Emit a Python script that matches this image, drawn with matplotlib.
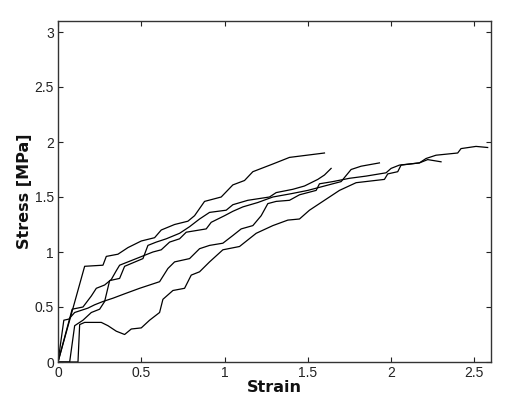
import matplotlib
matplotlib.use("Agg")
import matplotlib.pyplot as plt

# Curve 1 (top, ends near strain 1.6)
strain_1 = [0, 0.16, 0.27, 0.29, 0.36, 0.42, 0.50, 0.58, 0.62, 0.70, 0.78, 0.82, 0.88, 0.98,
            1.05, 1.12, 1.17, 1.29, 1.39, 1.60]
stress_1 = [0, 0.87, 0.88, 0.96, 0.98, 1.04, 1.10, 1.13, 1.20, 1.25, 1.28, 1.33, 1.46, 1.50,
            1.61, 1.65, 1.73, 1.80, 1.86, 1.90]

# Curve 2 (delayed start, ends near strain 1.63)
strain_2 = [0, 0.07, 0.10, 0.15, 0.20, 0.25, 0.28, 0.31, 0.37, 0.40, 0.51, 0.54, 0.59, 0.65,
            0.73, 0.79, 0.85, 0.91, 1.01, 1.05, 1.14, 1.27, 1.31, 1.41, 1.48, 1.56, 1.60, 1.64]
stress_2 = [0, 0, 0.33, 0.38, 0.45, 0.48, 0.55, 0.74, 0.76, 0.87, 0.94, 1.06, 1.09, 1.12,
            1.17, 1.23, 1.30, 1.36, 1.38, 1.43, 1.47, 1.50, 1.54, 1.57, 1.60, 1.66, 1.70, 1.76]

# Curve 3 (plateau near 0.5, ends near strain 1.93)
strain_3 = [0, 0.085, 0.15, 0.20, 0.23, 0.28, 0.32, 0.35, 0.37, 0.47, 0.57, 0.62, 0.67, 0.73,
            0.77, 0.89, 0.92, 1.00, 1.05, 1.11, 1.20, 1.29, 1.40, 1.50, 1.60, 1.70, 1.76,
            1.82, 1.93]
stress_3 = [0, 0.48, 0.50, 0.60, 0.67, 0.70, 0.75, 0.83, 0.88, 0.94, 1.00, 1.02, 1.09, 1.12,
            1.18, 1.21, 1.27, 1.33, 1.37, 1.41, 1.45, 1.50, 1.53, 1.56, 1.60, 1.64, 1.75,
            1.78, 1.81]

# Curve 4 (plateau near 0.38, ends near strain 2.3)
strain_4 = [0, 0.035, 0.065, 0.10, 0.18, 0.22, 0.27, 0.33, 0.40, 0.49, 0.55, 0.61, 0.66, 0.70,
            0.79, 0.85, 0.91, 0.99, 1.05, 1.10, 1.17, 1.22, 1.26, 1.31, 1.39, 1.45, 1.55,
            1.57, 1.65, 1.75, 1.85, 1.97, 2.00, 2.05, 2.17, 2.22, 2.30]
stress_4 = [0, 0.38, 0.39, 0.45, 0.49, 0.52, 0.55, 0.58, 0.62, 0.67, 0.70, 0.73, 0.85, 0.91,
            0.94, 1.03, 1.06, 1.08, 1.15, 1.21, 1.24, 1.33, 1.44, 1.46, 1.47, 1.52, 1.56,
            1.62, 1.64, 1.67, 1.69, 1.72, 1.76, 1.79, 1.81, 1.84, 1.82]

# Curve 5 (lowest, dip near 0.4, ends near strain 2.58)
strain_5 = [0, 0.12, 0.13, 0.16, 0.26, 0.30, 0.35, 0.40, 0.44, 0.50, 0.55, 0.61, 0.63, 0.69,
            0.76, 0.80, 0.85, 0.91, 0.99, 1.09, 1.19, 1.29, 1.38, 1.45, 1.51, 1.59, 1.69,
            1.79, 1.96, 1.98, 2.04, 2.06, 2.17, 2.21, 2.27, 2.40, 2.42, 2.51, 2.58]
stress_5 = [0, 0, 0.34, 0.36, 0.36, 0.33, 0.28, 0.25, 0.30, 0.31, 0.38, 0.45, 0.57, 0.65,
            0.67, 0.79, 0.82, 0.91, 1.02, 1.05, 1.17, 1.24, 1.29, 1.30, 1.38, 1.46, 1.56,
            1.63, 1.66, 1.71, 1.73, 1.79, 1.81, 1.85, 1.88, 1.90, 1.94, 1.96, 1.95]

x_ticks = [0, 0.5, 1, 1.5, 2, 2.5]
x_tick_labels = ["0", "0.5", "1", "1.5", "2", "2.5"]
y_ticks = [0, 0.5, 1, 1.5, 2, 2.5, 3]
y_tick_labels = ["0", "0.5", "1", "1.5", "2", "2.5", "3"]

curves = [(strain_1, stress_1), (strain_2, stress_2), (strain_3, stress_3),
          (strain_4, stress_4), (strain_5, stress_5)]

plt.rcParams['font.family'] = ['Liberation Sans', 'DejaVu Sans']

fig = plt.figure(figsize=(5.05, 3.96), dpi=100)
ax = fig.add_axes([58 / 505, 34 / 396, (491 - 58) / 505, (362 - 21) / 396])

for xs, ys in curves:
    ax.plot(xs, ys, color='black', lw=0.9)

ax.set_xlim(0, 2.6)
ax.set_ylim(0, 3.1)
ax.set_xticks(x_ticks)
ax.set_xticklabels(x_tick_labels)
ax.set_yticks(y_ticks)
ax.set_yticklabels(y_tick_labels)
ax.tick_params(direction='in', length=3.5, width=0.8, top=True, right=True,
               labelsize=10, colors='#222222', pad=3)
for s in ax.spines.values():
    s.set_linewidth(1.0)
    s.set_color('#333333')

ax.set_xlabel("Strain", fontsize=11.5, fontweight='bold', family='DejaVu Sans',
              labelpad=0, color='#111111')
ax.set_ylabel("Stress [MPa]", fontsize=11.5, fontweight='bold', family='DejaVu Sans',
              labelpad=2, color='#111111')

fig.savefig("out.png", dpi=100)
